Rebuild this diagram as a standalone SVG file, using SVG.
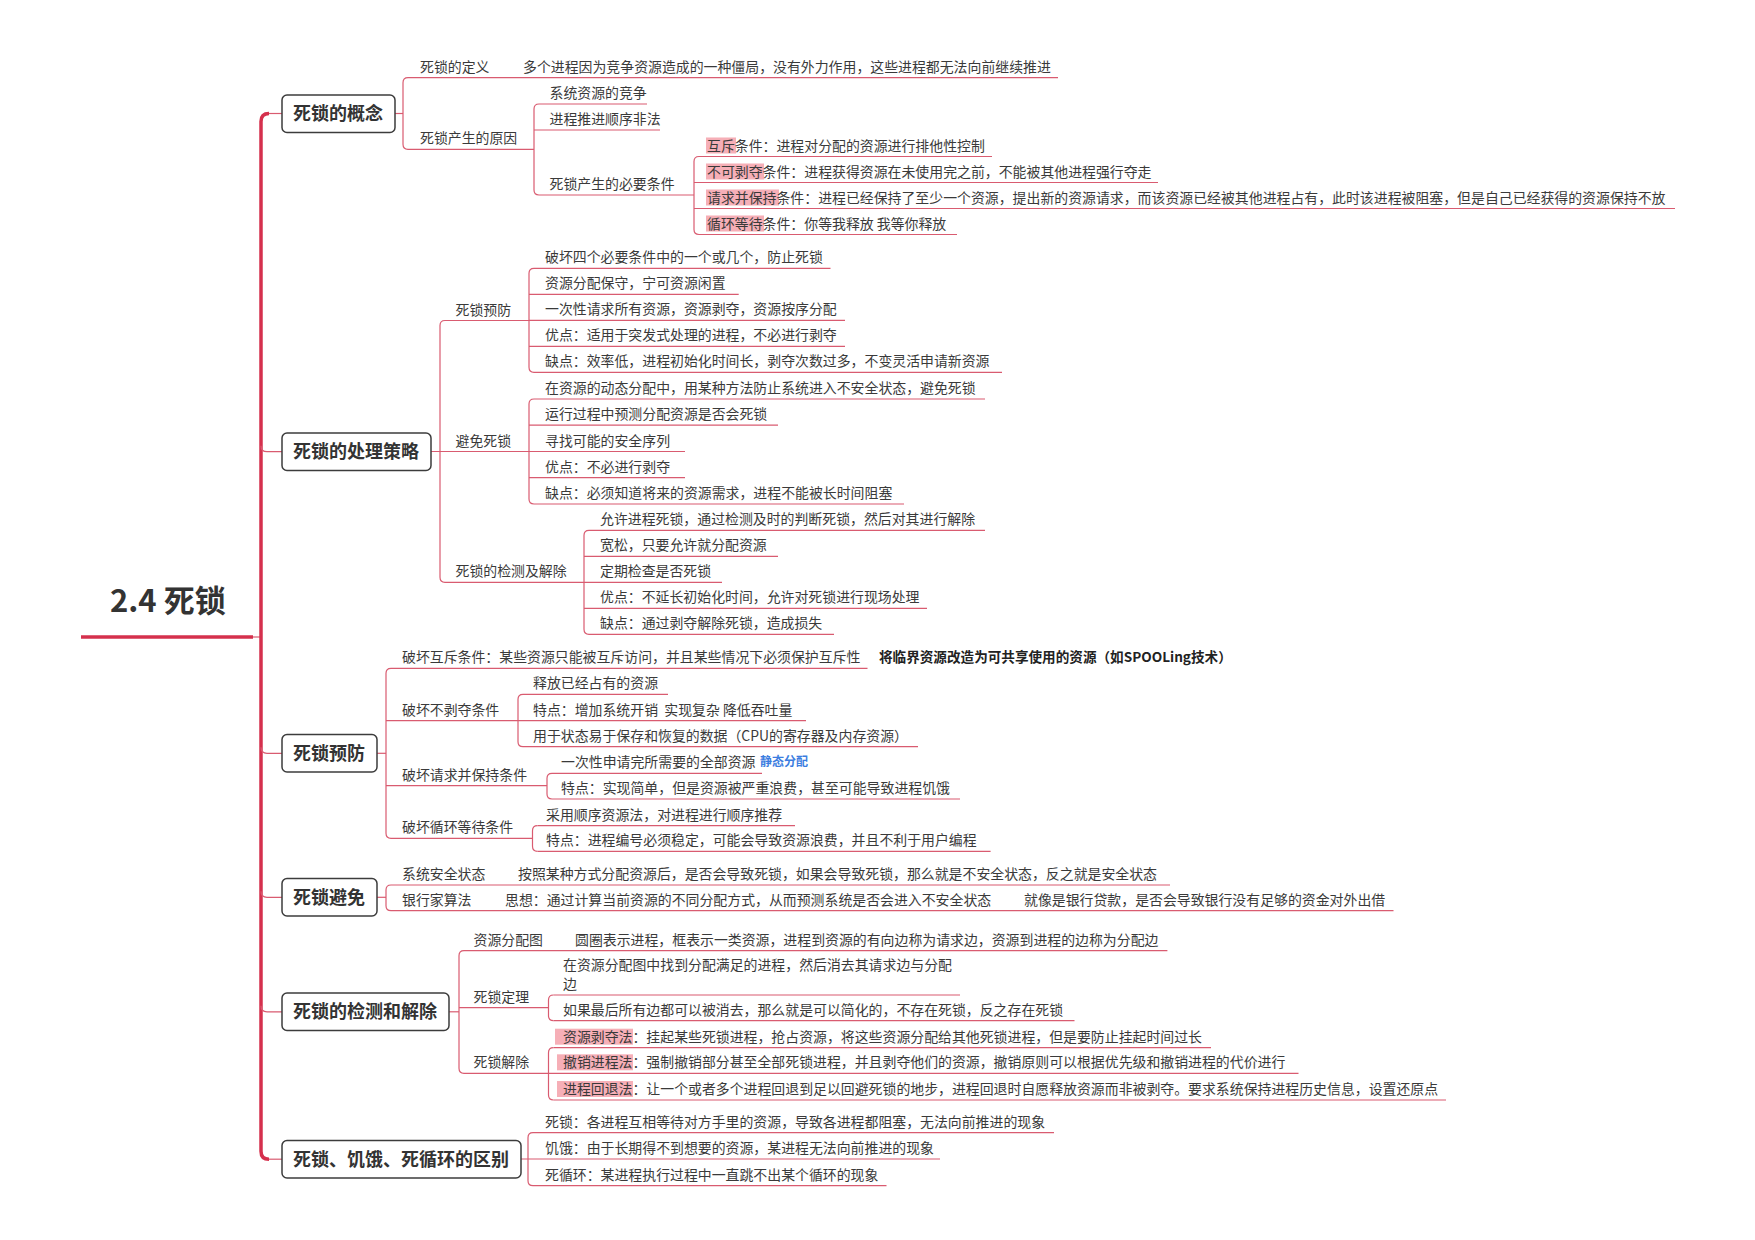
<svg xmlns="http://www.w3.org/2000/svg" width="1755" height="1240" viewBox="0 0 1755 1240">
<style>
text{font-family:"Noto Sans CJK SC","Noto Sans",sans-serif;}
.t{font-size:13.9px;fill:#3a3a3a;}
.n{font-size:18px;font-weight:bold;fill:#333;}
.root{font-size:31px;font-weight:bold;fill:#333;}
.note{font-size:13.6px;font-weight:bold;fill:#222;}
.blue{font-size:12px;font-weight:bold;fill:#3b7de0;}
.box{fill:#fff;stroke:#3c3c3c;stroke-width:1.5;}
.ln{fill:none;stroke:#d95b70;stroke-width:1.2;}
.trunk{fill:none;stroke:#d5304d;stroke-width:3.5;}
.hl{fill:#f28d99;opacity:0.7;}
</style>
<rect width="1755" height="1240" fill="#fff"/>
<g id="connectors">
<line class="trunk" x1="81" y1="637" x2="253" y2="637" stroke-width="4"/>
<line class="ln" x1="253" y1="637" x2="261" y2="637"/>
<path class="trunk" d="M269,113.5 Q261,113.5 261,121.5 L261,1151.2 Q261,1159.2 269,1159.2"/>
<line class="ln" x1="269" y1="113.5" x2="282" y2="113.5"/>
<line class="ln" x1="269" y1="1159.2" x2="282" y2="1159.2"/>
<path class="ln" d="M261,445.7 Q261,451.7 267,451.7 L282,451.7"/>
<path class="ln" d="M261,747.3 Q261,753.3 267,753.3 L282,753.3"/>
<path class="ln" d="M261,891.3 Q261,897.3 267,897.3 L282,897.3"/>
<path class="ln" d="M261,1005.8 Q261,1011.8 267,1011.8 L282,1011.8"/>
<!-- section 1 -->
<line class="ln" x1="395" y1="113.5" x2="403" y2="113.5"/>
<path class="ln" d="M408,77.7 Q403,77.7 403,82.7 L403,144.3 Q403,149.3 408,149.3"/>
<line class="ln" x1="408" y1="77.7" x2="1058" y2="77.7"/>
<line class="ln" x1="408" y1="149.3" x2="534" y2="149.3"/>
<path class="ln" d="M539,104 Q534,104 534,109 L534,190 Q534,195 539,195"/>
<line class="ln" x1="539" y1="104" x2="647" y2="104"/>
<line class="ln" x1="534" y1="130" x2="660" y2="130"/>
<line class="ln" x1="539" y1="195" x2="694" y2="195"/>
<path class="ln" d="M699,156.5 Q694,156.5 694,161.5 L694,229.5 Q694,234.5 699,234.5"/>
<line class="ln" x1="699" y1="156.5" x2="992" y2="156.5"/>
<line class="ln" x1="694" y1="182.5" x2="1158" y2="182.5"/>
<line class="ln" x1="694" y1="208.5" x2="1675" y2="208.5"/>
<line class="ln" x1="699" y1="234.5" x2="957" y2="234.5"/>
<!-- section 2 -->
<path class="ln" d="M445,320.5 Q440,320.5 440,325.5 L440,577.3 Q440,582.3 445,582.3"/>
<line class="ln" x1="445" y1="320.5" x2="529" y2="320.5"/>
<line class="ln" x1="431" y1="451.5" x2="529" y2="451.5"/>
<line class="ln" x1="445" y1="582.3" x2="584" y2="582.3"/>
<path class="ln" d="M534,268.3 Q529,268.3 529,273.3 L529,367.3 Q529,372.3 534,372.3"/>
<line class="ln" x1="534" y1="268.3" x2="830.5" y2="268.3"/>
<line class="ln" x1="529" y1="294.3" x2="738.7" y2="294.3"/>
<line class="ln" x1="529" y1="320.3" x2="845" y2="320.3"/>
<line class="ln" x1="529" y1="346.3" x2="845" y2="346.3"/>
<line class="ln" x1="534" y1="372.3" x2="1002" y2="372.3"/>
<path class="ln" d="M534,399 Q529,399 529,404 L529,499 Q529,504 534,504"/>
<line class="ln" x1="534" y1="399" x2="985" y2="399"/>
<line class="ln" x1="529" y1="425.2" x2="778" y2="425.2"/>
<line class="ln" x1="529" y1="451.5" x2="685" y2="451.5"/>
<line class="ln" x1="529" y1="477.7" x2="685" y2="477.7"/>
<line class="ln" x1="534" y1="504" x2="904" y2="504"/>
<path class="ln" d="M589,530.3 Q584,530.3 584,535.3 L584,629.3 Q584,634.3 589,634.3"/>
<line class="ln" x1="589" y1="530.3" x2="985" y2="530.3"/>
<line class="ln" x1="584" y1="556.3" x2="778" y2="556.3"/>
<line class="ln" x1="584" y1="582.3" x2="722" y2="582.3"/>
<line class="ln" x1="584" y1="608.3" x2="927" y2="608.3"/>
<line class="ln" x1="589" y1="634.3" x2="834" y2="634.3"/>
<!-- section 3 -->
<line class="ln" x1="377" y1="753.3" x2="386" y2="753.3"/>
<path class="ln" d="M391,668.3 Q386,668.3 386,673.3 L386,833.3 Q386,838.3 391,838.3"/>
<line class="ln" x1="391" y1="668.3" x2="867.5" y2="668.3"/>
<line class="ln" x1="386" y1="720.6" x2="518" y2="720.6"/>
<line class="ln" x1="386" y1="785.7" x2="547" y2="785.7"/>
<line class="ln" x1="391" y1="838.3" x2="532.5" y2="838.3"/>
<path class="ln" d="M523,694.3 Q518,694.3 518,699.3 L518,741.7 Q518,746.7 523,746.7"/>
<line class="ln" x1="523" y1="694.3" x2="668" y2="694.3"/>
<line class="ln" x1="518" y1="720.6" x2="806" y2="720.6"/>
<line class="ln" x1="523" y1="746.7" x2="918" y2="746.7"/>
<path class="ln" d="M552,773.3 Q547,773.3 547,778.3 L547,794 Q547,799 552,799"/>
<line class="ln" x1="552" y1="773.3" x2="762" y2="773.3"/>
<line class="ln" x1="552" y1="799" x2="960" y2="799"/>
<path class="ln" d="M537.5,825.7 Q532.5,825.7 532.5,830.7 L532.5,846.3 Q532.5,851.3 537.5,851.3"/>
<line class="ln" x1="537.5" y1="825.7" x2="795" y2="825.7"/>
<line class="ln" x1="537.5" y1="851.3" x2="990.6" y2="851.3"/>
<!-- section 4 -->
<line class="ln" x1="377" y1="897.3" x2="386" y2="897.3"/>
<path class="ln" d="M391,885 Q386,885 386,890 L386,905.7 Q386,910.7 391,910.7"/>
<line class="ln" x1="391" y1="885" x2="1170" y2="885"/>
<line class="ln" x1="391" y1="910.7" x2="1393.5" y2="910.7"/>
<!-- section 5 -->
<line class="ln" x1="449" y1="1011.8" x2="459" y2="1011.8"/>
<path class="ln" d="M464,950.7 Q459,950.7 459,955.7 L459,1068.3 Q459,1073.3 464,1073.3"/>
<line class="ln" x1="464" y1="950.7" x2="1167.4" y2="950.7"/>
<line class="ln" x1="459" y1="1007.7" x2="548.5" y2="1007.7"/>
<line class="ln" x1="464" y1="1073.3" x2="548.5" y2="1073.3"/>
<path class="ln" d="M553.5,995 Q548.5,995 548.5,1000 L548.5,1015.7 Q548.5,1020.7 553.5,1020.7"/>
<line class="ln" x1="553.5" y1="995" x2="960" y2="995"/>
<line class="ln" x1="553.5" y1="1020.7" x2="1074.5" y2="1020.7"/>
<path class="ln" d="M553.5,1047.7 Q548.5,1047.7 548.5,1052.7 L548.5,1095 Q548.5,1100 553.5,1100"/>
<line class="ln" x1="553.5" y1="1047.7" x2="1211" y2="1047.7"/>
<line class="ln" x1="548.5" y1="1073.3" x2="1298.5" y2="1073.3"/>
<line class="ln" x1="553.5" y1="1100" x2="1446" y2="1100"/>
<!-- section 6 -->
<path class="ln" d="M533,1132.7 Q528,1132.7 528,1137.7 L528,1180.7 Q528,1185.7 533,1185.7"/>
<line class="ln" x1="533" y1="1132.7" x2="1054" y2="1132.7"/>
<line class="ln" x1="521" y1="1159" x2="940" y2="1159"/>
<line class="ln" x1="533" y1="1185.7" x2="886.5" y2="1185.7"/>
</g>
<g id="root">
<text class="root" x="110" y="612">2.4 死锁</text>
</g>
<g id="n-concept">
<rect class="box" x="282" y="95" width="113" height="37.5" rx="5"/>
<text class="n" x="293" y="120">死锁的概念</text>
</g>
<g id="n-concept-children">
<text class="t" x="420" y="71.7">死锁的定义</text>
<text class="t" x="523" y="71.7">多个进程因为竞争资源造成的一种僵局，没有外力作用，这些进程都无法向前继续推进</text>
<text class="t" x="420" y="143.3">死锁产生的原因</text>
<text class="t" x="549.5" y="98">系统资源的竞争</text>
<text class="t" x="549.5" y="124">进程推进顺序非法</text>
<text class="t" x="549.5" y="189">死锁产生的必要条件</text>
<rect class="hl" x="706" y="137.5" width="30" height="16"/>
<rect class="hl" x="706" y="163.5" width="58" height="16"/>
<rect class="hl" x="706" y="189.5" width="73" height="16"/>
<rect class="hl" x="706" y="215.5" width="58" height="16"/>
<text class="t" x="707" y="150.5">互斥条件：进程对分配的资源进行排他性控制</text>
<text class="t" x="707" y="176.5">不可剥夺条件：进程获得资源在未使用完之前，不能被其他进程强行夺走</text>
<text class="t" x="707" y="202.5">请求并保持条件：进程已经保持了至少一个资源，提出新的资源请求，而该资源已经被其他进程占有，此时该进程被阻塞，但是自己已经获得的资源保持不放</text>
<text class="t" x="707" y="228.5">循环等待条件：你等我释放 我等你释放</text>
</g>
<g id="n-strategy">
<rect class="box" x="282" y="433" width="149" height="37.5" rx="5"/>
<text class="n" x="293" y="458">死锁的处理策略</text>
</g>
<g id="n-strategy-children">
<text class="t" x="455.5" y="314.5">死锁预防</text>
<text class="t" x="455.5" y="445.5">避免死锁</text>
<text class="t" x="455.5" y="576.3">死锁的检测及解除</text>
<text class="t" x="545" y="262.3">破坏四个必要条件中的一个或几个，防止死锁</text>
<text class="t" x="545" y="288.3">资源分配保守，宁可资源闲置</text>
<text class="t" x="545" y="314.3">一次性请求所有资源，资源剥夺，资源按序分配</text>
<text class="t" x="545" y="340.3">优点：适用于突发式处理的进程，不必进行剥夺</text>
<text class="t" x="545" y="366.3">缺点：效率低，进程初始化时间长，剥夺次数过多，不变灵活申请新资源</text>
<text class="t" x="545" y="393">在资源的动态分配中，用某种方法防止系统进入不安全状态，避免死锁</text>
<text class="t" x="545" y="419.2">运行过程中预测分配资源是否会死锁</text>
<text class="t" x="545" y="445.5">寻找可能的安全序列</text>
<text class="t" x="545" y="471.7">优点：不必进行剥夺</text>
<text class="t" x="545" y="498">缺点：必须知道将来的资源需求，进程不能被长时间阻塞</text>
<text class="t" x="600" y="524.3">允许进程死锁，通过检测及时的判断死锁，然后对其进行解除</text>
<text class="t" x="600" y="550.3">宽松，只要允许就分配资源</text>
<text class="t" x="600" y="576.3">定期检查是否死锁</text>
<text class="t" x="600" y="602.3">优点：不延长初始化时间，允许对死锁进行现场处理</text>
<text class="t" x="600" y="628.3">缺点：通过剥夺解除死锁，造成损失</text>
</g>
<g id="n-prevent">
<rect class="box" x="282" y="734.5" width="95" height="37.5" rx="5"/>
<text class="n" x="293" y="759.8">死锁预防</text>
</g>
<g id="n-prevent-children">
<text class="t" x="402" y="662.3">破坏互斥条件：某些资源只能被互斥访问，并且某些情况下必须保护互斥性</text>
<text class="note" x="879" y="661.8">将临界资源改造为可共享使用的资源（如SPOOLing技术）</text>
<text class="t" x="402" y="714.6">破坏不剥夺条件</text>
<text class="t" x="402" y="779.7">破坏请求并保持条件</text>
<text class="t" x="402" y="832.3">破坏循环等待条件</text>
<text class="t" x="533" y="688.3">释放已经占有的资源</text>
<text class="t" x="533" y="714.6">特点：增加系统开销&#160;&#160;实现复杂 降低吞吐量</text>
<text class="t" x="533" y="740.7">用于状态易于保存和恢复的数据（CPU的寄存器及内存资源）</text>
<text class="t" x="561" y="767.3">一次性申请完所需要的全部资源</text>
<text class="blue" x="760" y="766.3">静态分配</text>
<text class="t" x="561" y="793">特点：实现简单，但是资源被严重浪费，甚至可能导致进程饥饿</text>
<text class="t" x="546" y="819.7">采用顺序资源法，对进程进行顺序推荐</text>
<text class="t" x="546" y="845.3">特点：进程编号必须稳定，可能会导致资源浪费，并且不利于用户编程</text>
</g>
<g id="n-avoid">
<rect class="box" x="282" y="878.5" width="95" height="37.5" rx="5"/>
<text class="n" x="293" y="903.8">死锁避免</text>
</g>
<g id="n-avoid-children">
<text class="t" x="402" y="879">系统安全状态</text>
<text class="t" x="518" y="879">按照某种方式分配资源后，是否会导致死锁，如果会导致死锁，那么就是不安全状态，反之就是安全状态</text>
<text class="t" x="402" y="904.7">银行家算法</text>
<text class="t" x="505" y="904.7">思想：通过计算当前资源的不同分配方式，从而预测系统是否会进入不安全状态</text>
<text class="t" x="1024" y="904.7">就像是银行贷款，是否会导致银行没有足够的资金对外出借</text>
</g>
<g id="n-detect">
<rect class="box" x="282" y="993" width="167" height="37.5" rx="5"/>
<text class="n" x="293" y="1018.3">死锁的检测和解除</text>
</g>
<g id="n-detect-children">
<text class="t" x="473.5" y="944.7">资源分配图</text>
<text class="t" x="575" y="944.7">圆圈表示进程，框表示一类资源，进程到资源的有向边称为请求边，资源到进程的边称为分配边</text>
<text class="t" x="473.5" y="1001.7">死锁定理</text>
<text class="t" x="473.5" y="1067.3">死锁解除</text>
<text class="t" x="563" y="970">在资源分配图中找到分配满足的进程，然后消去其请求边与分配</text>
<text class="t" x="563" y="988.5">边</text>
<text class="t" x="563" y="1014.7">如果最后所有边都可以被消去，那么就是可以简化的，不存在死锁，反之存在死锁</text>
<rect class="hl" x="555" y="1028.7" width="78" height="16"/>
<rect class="hl" x="557" y="1054.3" width="76" height="16"/>
<rect class="hl" x="557" y="1081" width="76" height="16"/>
<text class="t" x="563" y="1041.7">资源剥夺法：挂起某些死锁进程，抢占资源，将这些资源分配给其他死锁进程，但是要防止挂起时间过长</text>
<text class="t" x="563" y="1067.3">撤销进程法：强制撤销部分甚至全部死锁进程，并且剥夺他们的资源，撤销原则可以根据优先级和撤销进程的代价进行</text>
<text class="t" x="563" y="1094">进程回退法：让一个或者多个进程回退到足以回避死锁的地步，进程回退时自愿释放资源而非被剥夺。要求系统保持进程历史信息，设置还原点</text>
</g>
<g id="n-diff">
<rect class="box" x="282" y="1140.5" width="239" height="37.5" rx="5"/>
<text class="n" x="293" y="1165.7">死锁、饥饿、死循环的区别</text>
</g>
<g id="n-diff-children">
<text class="t" x="545" y="1126.7">死锁：各进程互相等待对方手里的资源，导致各进程都阻塞，无法向前推进的现象</text>
<text class="t" x="545" y="1153">饥饿：由于长期得不到想要的资源，某进程无法向前推进的现象</text>
<text class="t" x="545" y="1179.7">死循环：某进程执行过程中一直跳不出某个循环的现象</text>
</g>
</svg>
